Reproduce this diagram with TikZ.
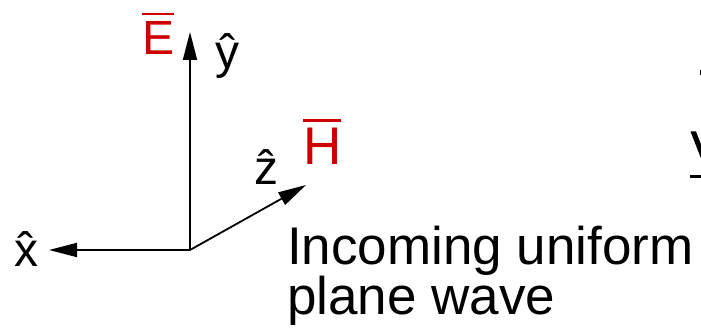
\documentclass[tikz,border=0pt]{standalone}
\usepackage{fontspec}
\setmainfont{Liberation Sans}
\usetikzlibrary{arrows.meta}
\definecolor{fieldred}{RGB}{204,0,0}
\newcommand\ovbar[1]{\leavevmode\vbox{\hrule height 2.4pt\kern 7pt\hbox{#1}}}
\tikzset{
  axis/.style={line width=1.8pt,-{Triangle[length=28pt,width=14pt]}},
  lbl/.style={inner sep=0pt,anchor=base west,font=\fontsize{48}{48}\selectfont},
  fld/.style={lbl,text=fieldred},
}
\begin{document}
\begin{tikzpicture}[x=1pt,y=-1pt]
\useasboundingbox (0,0) rectangle (701,336);
\coordinate (O) at (190,250);
\coordinate (X) at (49,250);
\coordinate (Y) at (190,32);
\coordinate (Z) at (306,185);
\draw[axis] (O) -- (X);
\draw[axis] (O) -- (Y);
\draw[axis] (O) -- (Z);
\node[lbl] (xl) at (14,267) {\^{x}};
\node[lbl] (yl) at (215,69) {\^{y}};
\node[lbl] (zl) at (254,185) {\^{z}};
\node[fld] (El) at (142,55) {\ovbar{E}};
\node[fld,font=\fontsize{53}{53}\selectfont] (Hl) at (303,165) {\ovbar{H}};
\node[inner sep=0pt,anchor=base west,align=left,font=\fontsize{53}{47}\selectfont] (txt) at (287,315) {Incoming uniform\\plane wave};
% fragments of a figure cut off at the right edge
\fill (690.5,131.5) -- (696,131.5) -- (702,147) -- (702,161) -- cycle;
\fill (690,175) rectangle (702,178.5);
\fill (699.5,70) rectangle (702,75);
\end{tikzpicture}
\end{document}
